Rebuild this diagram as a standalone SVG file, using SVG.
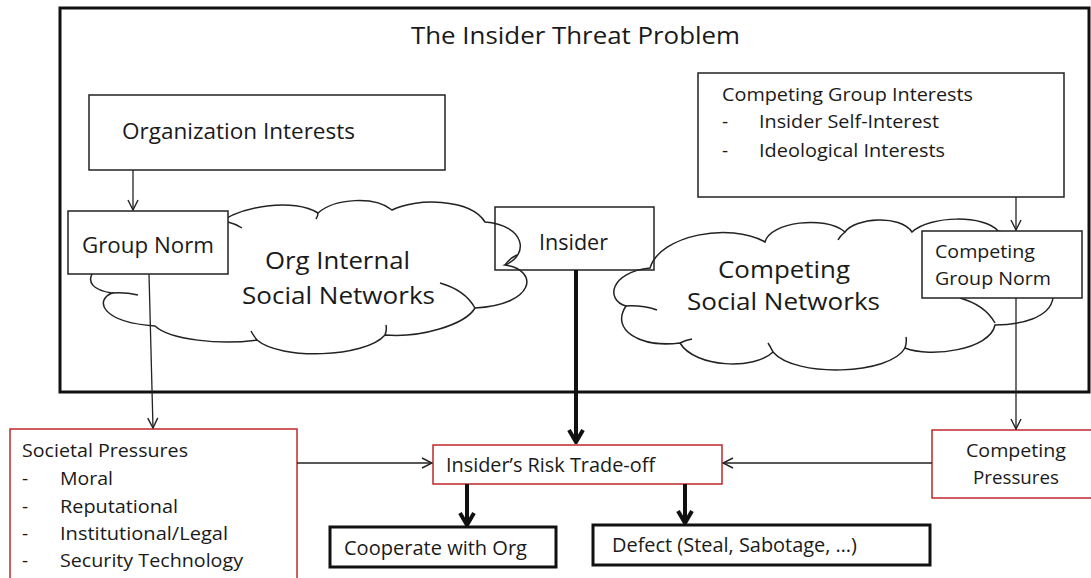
<svg xmlns="http://www.w3.org/2000/svg" width="1091" height="578" viewBox="0 0 1091 578">
<defs>
<style>
text{font-family:"Open Sans","Liberation Sans",sans-serif;fill:#1a1a1a}
.box{fill:#fff;stroke:#222;stroke-width:1.5}
.nofill{fill:none;stroke:#222;stroke-width:1.5}
.thick{fill:#fff;stroke:#111;stroke-width:3}
.red{fill:#fff;stroke:#c0282d;stroke-width:1.5}
.cloud{fill:none;stroke:#222;stroke-width:1.5}
.ln{fill:none;stroke:#222;stroke-width:1.3}
.tk{fill:none;stroke:#111;stroke-width:4}
</style>
<marker id="ah" viewBox="0 0 12 12" refX="11" refY="6" markerWidth="12" markerHeight="12" markerUnits="userSpaceOnUse" orient="auto">
<path d="M1,1 L11,6 L1,11" fill="none" stroke="#222" stroke-width="1.4"/>
</marker>
<marker id="ahk" viewBox="0 0 16 18" refX="14" refY="9" markerWidth="16" markerHeight="18" markerUnits="userSpaceOnUse" orient="auto">
<path d="M2,2 L14,9 L2,16" fill="none" stroke="#111" stroke-width="4"/>
</marker>
</defs>
<rect width="1091" height="578" fill="#fff"/>

<g id="frame">
<rect x="60" y="8" width="1029" height="384" fill="none" stroke="#111" stroke-width="3"/>
<text x="411" y="44" font-size="24" textLength="329" lengthAdjust="spacingAndGlyphs">The Insider Threat Problem</text>
</g>

<g id="org-cloud">
<path class="cloud" d="M215,226 C240,205 295,198 318,213 C335,198 375,196 392,210 C415,198 470,198 485,222 C525,225 530,255 505,265 C540,270 535,305 475,308 C465,325 420,338 385,335 C365,358 280,360 257,340 C220,345 170,340 155,326 C100,322 95,300 112,293 C92,290 88,282 92,274"/>
<path class="cloud" d="M440,283 Q465,290 475,308 M385,335 Q387,330 386,325 M257,340 Q253,335 251,331 M112,293 Q125,292 138,295 M505,265 Q510,258 517,255 M318,213 Q318,216 316,219 M228,222 Q236,224 242,228"/>
<text x="265" y="269" font-size="24" textLength="145" lengthAdjust="spacingAndGlyphs">Org Internal</text>
<text x="242" y="304" font-size="24" textLength="193" lengthAdjust="spacingAndGlyphs">Social Networks</text>
</g>

<g id="competing-cloud">
<path class="cloud" d="M680,343 C640,348 610,330 626,306 C605,300 610,272 650,268 C660,235 730,222 765,242 C770,222 825,215 845,232 C855,218 900,214 912,232 C930,215 985,215 998,231 L1040,240 L1053,298 C1050,318 1020,325 995,325 C990,350 930,358 905,348 C890,375 795,378 773,352 C755,370 695,368 680,343"/>
<path class="cloud" d="M960,298 Q985,305 995,323 M905,348 Q907,342 906,337 M773,352 Q770,346 768,343 M680,343 Q686,340 692,339 M626,306 Q642,305 657,310 M845,232 Q840,236 838,240"/>
<text x="718" y="278" font-size="24" textLength="132" lengthAdjust="spacingAndGlyphs">Competing</text>
<text x="687" y="310" font-size="24" textLength="193" lengthAdjust="spacingAndGlyphs">Social Networks</text>
</g>

<g id="org-interests">
<rect class="box" x="89" y="95" width="356" height="75"/>
<text x="122" y="139" font-size="22" textLength="233" lengthAdjust="spacingAndGlyphs">Organization Interests</text>
</g>

<g id="group-norm">
<rect class="box" x="68" y="211" width="160" height="63"/>
<text x="82" y="253" font-size="22" textLength="132" lengthAdjust="spacingAndGlyphs">Group Norm</text>
</g>

<g id="insider">
<rect class="nofill" x="495" y="207" width="159" height="63"/>
<text x="539" y="250" font-size="21" textLength="69" lengthAdjust="spacingAndGlyphs">Insider</text>
</g>

<g id="competing-group-interests">
<rect class="box" x="698" y="73" width="366" height="124"/>
<text x="722" y="101" font-size="19" textLength="251" lengthAdjust="spacingAndGlyphs">Competing Group Interests</text>
<text x="722" y="128" font-size="19">-</text>
<text x="759" y="128" font-size="19" textLength="180" lengthAdjust="spacingAndGlyphs">Insider Self-Interest</text>
<text x="722" y="157" font-size="19">-</text>
<text x="759" y="157" font-size="19" textLength="186" lengthAdjust="spacingAndGlyphs">Ideological Interests</text>
</g>

<g id="competing-group-norm">
<rect class="box" x="922" y="231" width="160" height="67"/>
<text x="935" y="258" font-size="19" textLength="100" lengthAdjust="spacingAndGlyphs">Competing</text>
<text x="935" y="285" font-size="19" textLength="116" lengthAdjust="spacingAndGlyphs">Group Norm</text>
</g>

<g id="societal-pressures">
<rect class="red" x="10" y="429" width="287" height="160"/>
<text x="22" y="457" font-size="19" textLength="166" lengthAdjust="spacingAndGlyphs">Societal Pressures</text>
<text x="22" y="485" font-size="19">-</text>
<text x="60" y="485" font-size="19" textLength="53" lengthAdjust="spacingAndGlyphs">Moral</text>
<text x="22" y="513" font-size="19">-</text>
<text x="60" y="513" font-size="19" textLength="118" lengthAdjust="spacingAndGlyphs">Reputational</text>
<text x="22" y="540" font-size="19">-</text>
<text x="60" y="540" font-size="19" textLength="168" lengthAdjust="spacingAndGlyphs">Institutional/Legal</text>
<text x="22" y="567" font-size="19">-</text>
<text x="60" y="567" font-size="19" textLength="183" lengthAdjust="spacingAndGlyphs">Security Technology</text>
</g>

<g id="risk-tradeoff">
<rect class="red" x="433" y="445" width="289" height="39"/>
<text x="446" y="472" font-size="20" textLength="209" lengthAdjust="spacingAndGlyphs">Insider’s Risk Trade-off</text>
</g>

<g id="competing-pressures">
<rect class="red" x="932" y="430" width="170" height="68"/>
<text x="1016" y="457" font-size="19" text-anchor="middle" textLength="100" lengthAdjust="spacingAndGlyphs">Competing</text>
<text x="1016" y="484" font-size="19" text-anchor="middle" textLength="86" lengthAdjust="spacingAndGlyphs">Pressures</text>
</g>

<g id="cooperate">
<rect class="thick" x="330" y="527" width="226" height="40"/>
<text x="344" y="555" font-size="20" textLength="183" lengthAdjust="spacingAndGlyphs">Cooperate with Org</text>
</g>

<g id="defect">
<rect class="thick" x="593" y="525" width="337" height="40"/>
<text x="612" y="552" font-size="20" textLength="245" lengthAdjust="spacingAndGlyphs">Defect (Steal, Sabotage, …)</text>
</g>

<g id="connectors">
<line class="ln" x1="133" y1="170" x2="133" y2="210" marker-end="url(#ah)"/>
<line class="ln" x1="149" y1="274" x2="153" y2="428" marker-end="url(#ah)"/>
<line class="ln" x1="1016" y1="197" x2="1016" y2="230" marker-end="url(#ah)"/>
<line class="ln" x1="1016" y1="298" x2="1016" y2="429" marker-end="url(#ah)"/>
<line class="ln" x1="297" y1="463" x2="432" y2="463" marker-end="url(#ah)"/>
<line class="ln" x1="932" y1="463" x2="723" y2="463" marker-end="url(#ah)"/>
<line class="tk" x1="576" y1="270" x2="576" y2="442" marker-end="url(#ahk)"/>
<line class="tk" x1="467" y1="484" x2="467" y2="525" marker-end="url(#ahk)"/>
<line class="tk" x1="685" y1="484" x2="685" y2="523" marker-end="url(#ahk)"/>
</g>
</svg>
